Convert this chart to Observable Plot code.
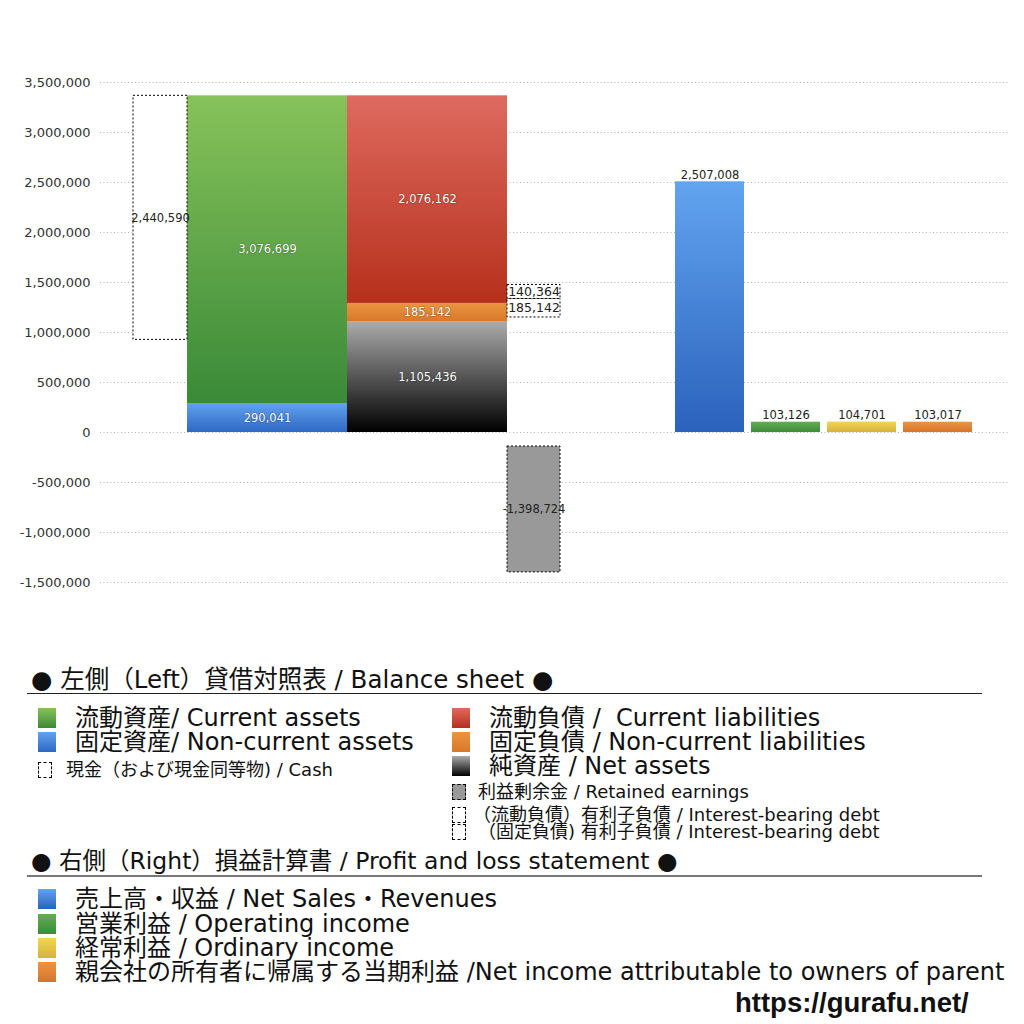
<!DOCTYPE html>
<html><head><meta charset="utf-8">
<script src="https://cdn.jsdelivr.net/npm/d3@7"></script>
<script src="https://cdn.jsdelivr.net/npm/@observablehq/plot@0.6"></script>
<style>
body{margin:0;background:#fff;width:1024px;height:1024px;position:relative;overflow:hidden;font-family:"DejaVu Sans","Noto Sans CJK JP",sans-serif;color:#111}
#chart{position:absolute;left:0;top:0}
.lg{position:absolute;white-space:pre;line-height:1}
.sw{position:absolute;box-sizing:border-box}
.hr{position:absolute;left:27px;width:955px}
</style></head><body>
<div id="chart"></div>
<div id="legend"></div>
<script>
// ---- data ----
const yTicks = [-1500000,-1000000,-500000,0,500000,1000000,1500000,2000000,2500000,3000000,3500000];
// Balance sheet (left side)
const assetNames = ["固定資産","流動資産"];
const assetValues = [290041, 3076699];
const cashValue = 2440590;
const liabNames = ["純資産","固定負債","流動負債"];
const liabValues = [1105436, 185142, 2076162];
const retainedEarnings = -1398724;
const debtNames = ["（固定負債）有利子負債","（流動負債）有利子負債"];
const debtValues = [185142, 140364];
// Profit and loss (right side)
const plNames = ["売上高・収益","営業利益","経常利益","当期利益"];
const plValues = [2507008, 103126, 104701, 103017];

// ---- layout (pixel offsets in the plot frame) ----
const col = {cash:[33,87], assets:[87,247], liab:[247,407], debt:[407,460]};
const plX0 = 575, plStep = 76, plW = 69;
const assetFill = ["url(#gBlue)","url(#gGreen)"];
const liabFill = ["url(#gBlack)","url(#gOrange)","url(#gRed)"];
const plFill = ["url(#gSales)","url(#gOp)","url(#gOrd)","url(#gNet)"];

const fmt = d3.formatLocale({decimal:".",thousands:",",grouping:[3],currency:["",""],minus:"-"}).format(",");
const solid = [], dashed = [], whiteLabels = [], darkLabels = [];
let acc = 0;
assetValues.forEach((v,i)=>{solid.push({x1:col.assets[0],x2:col.assets[1],y1:acc,y2:acc+v,fill:assetFill[i]}); whiteLabels.push({x:(col.assets[0]+col.assets[1])/2,y:acc+v/2,t:fmt(v)}); acc+=v;});
const totalAssets = acc;
dashed.push({x1:col.cash[0],x2:col.cash[1],y1:totalAssets-cashValue,y2:totalAssets,fill:"#fff"});
darkLabels.push({x:(col.cash[0]+col.cash[1])/2,y:totalAssets-cashValue/2,t:fmt(cashValue),s:11.5});
acc = 0;
let liabTops = [];
liabValues.forEach((v,i)=>{solid.push({x1:col.liab[0],x2:col.liab[1],y1:acc,y2:acc+v,fill:liabFill[i]}); whiteLabels.push({x:(col.liab[0]+col.liab[1])/2,y:acc+v/2,t:fmt(v)}); acc+=v; liabTops.push(acc);});
// debt column is offset downward by the current interest-bearing debt (as in the source)
const offset = debtValues[1];
let dacc = liabTops[1] - offset;
debtValues.forEach((v)=>{dashed.push({x1:col.debt[0],x2:col.debt[1],y1:dacc,y2:dacc+v,fill:"#fff"}); darkLabels.push({x:(col.debt[0]+col.debt[1])/2,y:dacc+v/2,t:fmt(v),s:12.5}); dacc+=v;});
dashed.push({x1:col.debt[0],x2:col.debt[1],y1:-offset,y2:retainedEarnings,fill:"#999"});
darkLabels.push({x:(col.debt[0]+col.debt[1])/2,y:(-offset+retainedEarnings)/2,t:fmt(retainedEarnings),s:11.5});
const plBars = plValues.map((v,i)=>({x1:plX0+i*plStep,x2:plX0+i*plStep+plW,y1:0,y2:v,fill:plFill[i],t:fmt(v)}));

const FONT = '"DejaVu Sans","Noto Sans CJK JP",sans-serif';
const chart = Plot.plot({
  width:1024, height:640, marginTop:82, marginBottom:58, marginLeft:100, marginRight:14,
  x:{domain:[0,910], axis:null},
  y:{domain:[-1500000,3500000], axis:null},
  color:{type:"identity"},
  style:{fontFamily:FONT, fontSize:"13px", color:"#333", background:"transparent"},
  marks:[
    Plot.gridY(yTicks,{stroke:"#b0b0b0", strokeOpacity:1, strokeDasharray:"1,2.5"}),
    Plot.axisY(yTicks,{tickSize:0, tickPadding:10, tickFormat:fmt, fontSize:13, fill:"#333", label:null}),
    Plot.rect(solid,{x1:"x1",x2:"x2",y1:"y1",y2:"y2",fill:"fill",inset:0}),
    Plot.rect(plBars,{x1:"x1",x2:"x2",y1:"y1",y2:"y2",fill:"fill",inset:0}),
    Plot.rect(dashed,{x1:"x1",x2:"x2",y1:"y1",y2:"y2",fill:"fill",stroke:"#000",strokeWidth:1,strokeDasharray:"2,2",inset:0}),
    Plot.text(whiteLabels,{x:"x",y:"y",text:"t",fill:"#fff",stroke:"rgba(0,0,0,0.3)",strokeWidth:1.2,paintOrder:"stroke",fontSize:11.5}),
    Plot.text(darkLabels,{x:"x",y:"y",text:"t",fill:"#222",fontSize:d=>d.s}),
    Plot.text(plBars,{x:d=>(d.x1+d.x2)/2,y:"y2",text:"t",fill:"#222",fontSize:11.5,lineAnchor:"bottom",dy:-3})
  ]
});
function lg(id,c1,c2){return `<linearGradient id="${id}" x1="0" y1="0" x2="0" y2="1"><stop offset="0" stop-color="${c1}"/><stop offset="1" stop-color="${c2}"/></linearGradient>`;}
const grads = {gGreen:["#87c25a","#3a8a38"],gBlue:["#62a2f0","#2e68c4"],gRed:["#de6a5f","#b6301c"],gOrange:["#ea9540","#d8782a"],gBlack:["#ababab","#000000"],gSales:["#62a4f0","#2b62bc"],gOp:["#62ae52","#3c8c38"],gOrd:["#f2d655","#d6b23a"],gNet:["#ea9545","#d8742a"]};
chart.insertAdjacentHTML("afterbegin","<defs>"+Object.entries(grads).map(([k,v])=>lg(k,v[0],v[1])).join("")+"</defs>");
document.getElementById("chart").appendChild(chart);

// ---- legend ----
const legendHeads = ["● 左側（Left）貸借対照表 / Balance sheet ●","● 右側（Right）損益計算書 / Profit and loss statement ●"];
const bsBig = [
  {t:"流動資産/ Current assets",g:grads.gGreen,x:38,y:718},
  {t:"固定資産/ Non-current assets",g:grads.gBlue,x:38,y:742},
  {t:"流動負債 /  Current liabilities",g:grads.gRed,x:452,y:718},
  {t:"固定負債 / Non-current liabilities",g:grads.gOrange,x:452,y:742},
  {t:"純資産 / Net assets",g:grads.gBlack,x:452,y:766}
];
const bsSmall = [
  {t:"現金（および現金同等物) / Cash",fill:"#fff",x:38,y:770,tx:66},
  {t:"利益剰余金 / Retained earnings",fill:"#999",x:452,y:792,tx:478},
  {t:"（流動負債）有利子負債 / Interest-bearing debt",fill:"#fff",x:452,y:815,tx:473},
  {t:"（固定負債) 有利子負債 / Interest-bearing debt",fill:"#fff",x:452,y:832,tx:478}
];
const plLegend = [
  {t:"売上高・収益 / Net Sales・Revenues",g:grads.gSales,y:899},
  {t:"営業利益 / Operating income",g:grads.gOp,y:924},
  {t:"経常利益 / Ordinary income",g:grads.gOrd,y:948},
  {t:"親会社の所有者に帰属する当期利益 /Net income attributable to owners of parent",g:grads.gNet,y:972}
];
const L = document.getElementById("legend");
let h = "";
h += `<div class="lg" style="left:31px;top:668px;font-size:24.5px">${legendHeads[0]}</div>`;
h += `<div class="hr" style="top:693px;height:1px;background:#222"></div>`;
bsBig.forEach(d=>{
  h += `<div class="sw" style="left:${d.x}px;top:${d.y-10}px;width:18px;height:20px;background:linear-gradient(${d.g[0]},${d.g[1]})"></div>`;
  h += `<div class="lg" style="left:${d.x+37}px;top:${d.y-12}px;font-size:24px">${d.t}</div>`;
});
bsSmall.forEach(d=>{
  h += `<div class="sw" style="left:${d.x}px;top:${d.y-8}px;width:14px;height:16px;background:${d.fill};border:1px dashed #000"></div>`;
  h += `<div class="lg" style="left:${d.tx}px;top:${d.y-9}px;font-size:18px">${d.t}</div>`;
});
h += `<div class="lg" style="left:31px;top:850px;font-size:23.5px">${legendHeads[1]}</div>`;
h += `<div class="hr" style="top:875px;height:2px;background:#777"></div>`;
plLegend.forEach(d=>{
  h += `<div class="sw" style="left:38px;top:${d.y-10}px;width:18px;height:20px;background:linear-gradient(${d.g[0]},${d.g[1]})"></div>`;
  h += `<div class="lg" style="left:75px;top:${d.y-12}px;font-size:24px">${d.t}</div>`;
});
h += `<div class="lg" style="left:735px;top:989px;font-size:27.5px;font-weight:bold;font-family:'Liberation Sans',sans-serif">https://gurafu.net/</div>`;
L.innerHTML = h;
</script></body></html>
